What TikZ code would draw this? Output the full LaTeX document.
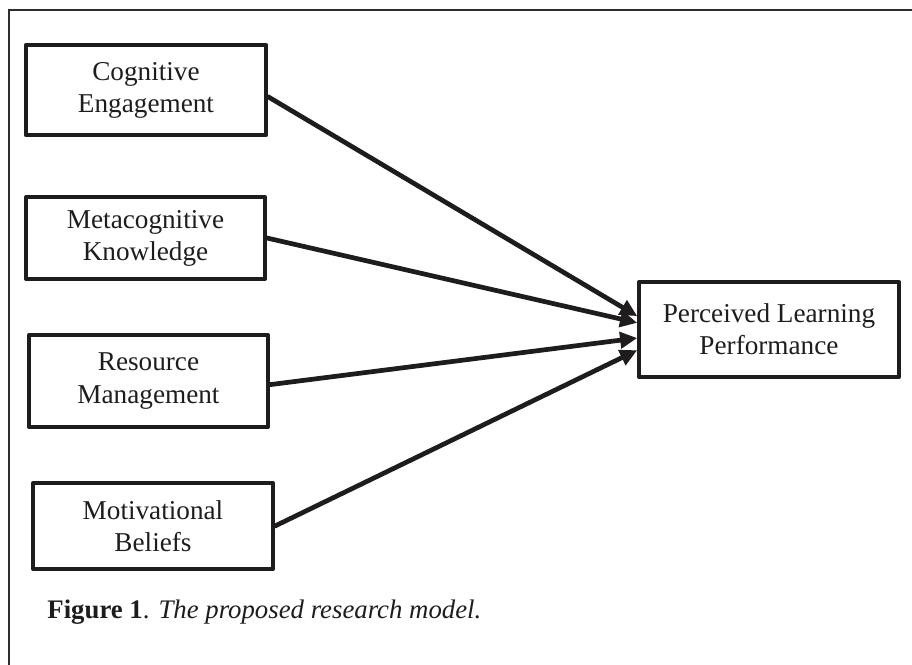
\documentclass[tikz,border=0pt]{standalone}
\usepackage{fontspec}
\setmainfont{Liberation Serif}
\usepackage{xcolor}
\usepackage{tikz}
\usetikzlibrary{arrows.meta}
\definecolor{ink}{HTML}{1E1C1D}
\definecolor{rule}{HTML}{2E2E2E}
\tikzset{
  box/.style={draw=ink, line width=1.8pt, line join=round, align=center, text=ink, inner sep=0pt, font=\fontsize{12.7}{15}\selectfont},
  link/.style={draw=ink, line width=2.2pt, line cap=round, -{Triangle[length=8pt,width=7.5pt]}},
  frame/.style={draw=rule, line width=0.7pt},
  figcap/.style={text=ink, inner sep=0pt, anchor=base west, font=\fontsize{12.5}{15}\selectfont},
}

\begin{document}
\begin{tikzpicture}[x=0.0164cm, y=-0.0164cm]
  \useasboundingbox (0,0) rectangle (912,665);
  \draw[frame] (912,10) -- (9,10) -- (9,665);
  % predictors
  \node[box, minimum width=3.94cm, minimum height=1.48cm] (ce) at (146,90) {Cognitive\\Engagement};
  \node[box, minimum width=3.92cm, minimum height=1.34cm] (mk) at (145.5,238) {Metacognitive\\Knowledge};
  \node[box, minimum width=3.92cm, minimum height=1.51cm] (rm) at (148.5,381) {Resource\\Management};
  \node[box, minimum width=3.94cm, minimum height=1.41cm] (mb) at (153,526) {Motivational\\Beliefs};
  % outcome
  \node[box, minimum width=4.26cm, minimum height=1.56cm] (plp) at (769,329.5) {Perceived Learning\\Performance};
  \draw[link] ([yshift=-0.11cm]ce.east) -- ([yshift=0.22cm]plp.west);
  \draw[link] (mk.east) -- ([yshift=0.11cm]plp.west);
  \draw[link] ([yshift=-0.06cm]rm.east) -- ([yshift=-0.14cm]plp.west);
  \draw[link] (mb.east) -- ([yshift=-0.34cm]plp.west);
  \node[figcap] (fig) at (47,618) {\textbf{Figure 1}. \textit{The proposed research model.}};
\end{tikzpicture}
\end{document}
